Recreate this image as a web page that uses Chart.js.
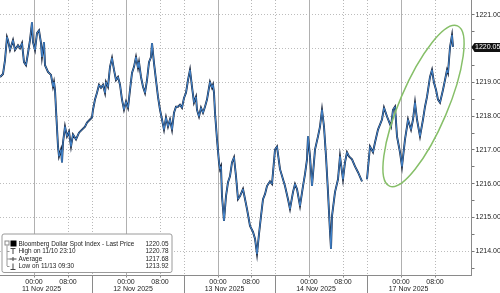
<!DOCTYPE html>
<html>
<head>
<meta charset="utf-8">
<script src="https://cdn.jsdelivr.net/npm/chart.js@4.4.1/dist/chart.umd.min.js"></script>
<style>
  html, body { margin: 0; padding: 0; background: #fff; }
  canvas { display: block; }
</style>
</head>
<body>
<canvas id="chart" width="500" height="293"></canvas>
<script>
// x runs along Bloomberg's compressed session axis, one unit ~ one 14-minute bar
const bars = [
  0, 3, 5, 7, 8, 10, 13, 15, 18, 20, 22, 24, 26, 28, 30, 32, 33, 35, 37, 39,
  41, 42, 44, 45, 48, 51, 53, 54, 55, 56, 58, 59, 61, 62, 63, 65, 67, 69, 71, 73,
  76, 79, 82, 85, 87, 90,
  92, 93, 95, 97, 99, 101, 103, 105, 106, 108, 110, 112, 114, 116, 118, 120, 122, 124, 126, 128,
  130, 132, 134, 136, 138, 139, 141, 143, 145, 147, 149, 151, 152, 154, 156, 158, 160, 162, 164, 166,
  168, 170, 172, 174, 176, 178, 180, 182,
  184, 186, 188, 190, 192, 194, 196, 197, 199, 201, 203, 205, 207, 209, 210, 212, 213, 214, 215, 217,
  219, 220, 221, 222, 224, 226, 228, 230, 232, 234, 236, 238, 240, 243, 247, 250, 253, 255, 257, 259,
  261, 263, 265, 267, 270, 272,
  275, 277, 280, 283, 285, 288, 290, 293, 295, 297, 300, 303, 305, 307, 308, 310, 312, 315, 318, 320,
  322, 324, 326, 328, 330, 331, 332, 335, 338, 340, 343, 345, 347, 349, 352, 355, 358, 362,
  364,
  367, 370, 373, 375, 378, 382, 384, 387, 391, 393, 395, 397, 400, 402, 405, 407, 408, 411, 413, 415,
  417, 420, 423, 425, 427, 430, 432, 434, 436, 438, 440, 443, 445, 447, 448, 450, 452, 453
];
const prices = [
  1219.16, 1219.25, 1219.66, 1220.34, 1220.25, 1219.96, 1220.25, 1219.96, 1220.10, 1220.01,
  1220.16, 1219.60, 1219.51, 1219.87, 1220.25, 1220.78, 1220.19, 1219.96, 1220.46, 1220.54,
  1220.16, 1219.75, 1220.19, 1219.51, 1219.31, 1219.22, 1218.87, 1219.01, 1218.78, 1218.19,
  1217.10, 1216.81, 1217.01, 1216.63, 1217.22, 1217.69, 1217.40, 1217.54, 1217.10, 1217.46,
  1217.31, 1217.51, 1217.60, 1217.69, 1217.81, 1217.90,
  1217.96, 1218.19, 1218.49, 1218.69, 1218.93, 1218.84, 1218.93, 1218.69, 1219.01, 1218.87,
  1219.46, 1219.72, 1219.37, 1219.07, 1219.16, 1218.93, 1218.49, 1218.19, 1218.43, 1218.25,
  1218.78, 1219.28, 1219.46, 1219.75, 1219.43, 1219.60, 1219.16, 1218.87, 1218.69, 1219.07,
  1219.60, 1219.75, 1220.16, 1219.57, 1219.07, 1218.57, 1218.19, 1217.90, 1217.60, 1217.96,
  1217.69, 1217.90, 1217.60, 1218.10, 1218.28, 1218.28, 1218.34, 1218.25,
  1218.54, 1218.69, 1219.07, 1219.37, 1218.87, 1218.40, 1218.57, 1218.19, 1217.99, 1218.25,
  1218.10, 1218.28, 1218.49, 1218.84, 1219.01, 1218.84, 1218.93, 1218.69, 1218.10, 1217.31,
  1216.63, 1216.43, 1216.51, 1215.63, 1214.90, 1215.63, 1216.04, 1216.22, 1216.63, 1216.78,
  1216.22, 1215.54, 1215.63, 1215.84, 1215.25, 1214.75, 1214.57, 1214.37, 1213.92, 1214.51,
  1215.04, 1215.54, 1215.69, 1215.93, 1216.07, 1215.99,
  1217.01, 1217.10, 1216.43, 1216.13, 1215.93, 1215.54, 1215.25, 1215.75, 1215.99, 1215.84,
  1215.34, 1215.93, 1216.28, 1216.72, 1217.40, 1216.81, 1215.93, 1217.01, 1217.40, 1217.69,
  1218.19, 1217.69, 1216.81, 1215.75, 1214.57, 1214.07, 1215.04, 1215.75, 1216.13, 1216.81,
  1216.13, 1216.63, 1216.93, 1216.81, 1216.72, 1216.51, 1216.34, 1216.07,
  null,
  1216.13, 1217.10, 1216.93, 1217.22, 1217.60, 1217.90, 1218.25, 1217.99, 1217.69, 1218.19,
  1218.28, 1217.40, 1216.93, 1216.51, 1217.31, 1217.69, 1217.90, 1217.60, 1217.90, 1218.40,
  1217.90, 1217.40, 1217.90, 1218.28, 1218.57, 1219.16, 1219.37, 1218.99, 1218.78, 1218.49,
  1218.40, 1218.78, 1219.07, 1219.37, 1219.28, 1220.04, 1220.40, 1220.05
];

const sessionStarts = [0, 92, 183.5, 275, 366.5];
const midnightTicks = [34, 126, 218, 309, 401];
const eightTicks = [68, 160, 251, 343, 435];
const dateTicks = [41.5, 133, 224.5, 316, 408.5];
const dateLabels = ['11 Nov 2025', '12 Nov 2025', '13 Nov 2025', '14 Nov 2025', '17 Nov 2025'];
const priceTicks = [1213.5, 1214, 1214.5, 1215, 1215.5, 1216, 1216.5, 1217, 1217.5,
  1218, 1218.5, 1219, 1219.5, 1220, 1220.5, 1221];

const legendLabels = ['Bloomberg Dollar Spot Index - Last Price', 'High on 11/10 23:10', 'Average', 'Low on 11/13 09:30'];
const legendValues = ['1220.05', '1220.78', '1217.68', '1213.92'];
const lastPrice = 1220.05;

const FONT = '"Liberation Sans", Arial, sans-serif';
Chart.defaults.font.family = FONT;
Chart.defaults.color = '#222';

const points = bars.map((b, i) => ({ x: b, y: prices[i] }));

const overlay = {
  id: 'overlay',
  beforeDatasetsDraw(chart) {
    const { ctx, chartArea: a, scales: { x } } = chart;
    ctx.save();
    ctx.lineWidth = 1;
    ctx.strokeStyle = '#b8b8b8';
    ctx.setLineDash([1, 2]);
    eightTicks.concat(sessionStarts.slice(1)).forEach(v => {
      const px = Math.round(x.getPixelForValue(v)) + 0.5;
      ctx.beginPath(); ctx.moveTo(px, a.top); ctx.lineTo(px, a.bottom); ctx.stroke();
    });
    ctx.setLineDash([]);
    ctx.strokeStyle = '#b0b0b0';
    midnightTicks.forEach(v => {
      const px = Math.round(x.getPixelForValue(v)) + 0.5;
      ctx.beginPath(); ctx.moveTo(px, a.top); ctx.lineTo(px, a.bottom); ctx.stroke();
    });
    ctx.restore();
  },
  afterDraw(chart, args, opts) {
    const { ctx, chartArea: a, scales: { x, y } } = chart;
    ctx.save();

    // session separators through the label rows
    ctx.strokeStyle = '#8a8a8a';
    ctx.lineWidth = 1;
    sessionStarts.slice(1).forEach(v => {
      const px = Math.round(x.getPixelForValue(v)) + 0.5;
      ctx.beginPath(); ctx.moveTo(px, a.bottom); ctx.lineTo(px, chart.height); ctx.stroke();
    });

    // date row under the time labels
    ctx.fillStyle = '#222';
    ctx.font = '7px ' + FONT;
    ctx.textAlign = 'center';
    ctx.textBaseline = 'middle';
    dateTicks.forEach((v, i) => ctx.fillText(dateLabels[i], x.getPixelForValue(v), a.bottom + 14));

    // highlight ellipse
    const e = opts.ellipse;
    ctx.strokeStyle = e.color;
    ctx.lineWidth = e.width;
    ctx.beginPath();
    ctx.ellipse(x.getPixelForValue(e.bar), y.getPixelForValue(e.price), e.rx, e.ry, e.angle * Math.PI / 180, 0, Math.PI * 2);
    ctx.stroke();

    // last price tag
    const py = Math.round(y.getPixelForValue(lastPrice));
    ctx.fillStyle = '#111';
    ctx.beginPath();
    ctx.moveTo(a.right, py);
    ctx.lineTo(a.right + 3, py - 4);
    ctx.lineTo(chart.width, py - 4);
    ctx.lineTo(chart.width, py + 5);
    ctx.lineTo(a.right + 3, py + 5);
    ctx.closePath();
    ctx.fill();
    ctx.fillStyle = '#fff';
    ctx.textAlign = 'left';
    ctx.fillText(lastPrice.toFixed(2), a.right + 3.5, py + 0.5);

    // legend box
    const lb = opts.legend;
    ctx.fillStyle = '#fff';
    ctx.strokeStyle = '#9a9a9a';
    ctx.lineWidth = 1;
    ctx.beginPath();
    ctx.roundRect(lb.left + 0.5, lb.top + 0.5, lb.width, lb.height, 2);
    ctx.fill();
    ctx.stroke();

    const rowY = i => lb.top + 10 + i * 7.5;
    // collapse box and series swatch
    ctx.strokeStyle = '#888';
    ctx.strokeRect(lb.left + 3.5, rowY(0) - 2.5, 4, 4);
    ctx.fillStyle = '#000';
    ctx.fillRect(lb.left + 9, rowY(0) - 3, 6, 6);
    // tree connectors
    ctx.strokeStyle = '#999';
    ctx.beginPath();
    ctx.moveTo(lb.left + 5.5, rowY(0) + 2); ctx.lineTo(lb.left + 5.5, rowY(3));
    for (let i = 1; i < 4; i++) { ctx.moveTo(lb.left + 5.5, rowY(i) + 0.5); ctx.lineTo(lb.left + 8, rowY(i) + 0.5); }
    ctx.stroke();
    // high / average / low markers
    ctx.strokeStyle = '#444';
    ctx.beginPath();
    ctx.moveTo(lb.left + 9, rowY(1) - 2.5); ctx.lineTo(lb.left + 14, rowY(1) - 2.5);
    ctx.moveTo(lb.left + 11.5, rowY(1) - 2.5); ctx.lineTo(lb.left + 11.5, rowY(1) + 3);
    ctx.moveTo(lb.left + 8, rowY(2) + 0.5); ctx.lineTo(lb.left + 15, rowY(2) + 0.5);
    ctx.moveTo(lb.left + 11.5, rowY(2) - 1.5); ctx.lineTo(lb.left + 11.5, rowY(2) + 2.5);
    ctx.moveTo(lb.left + 11.5, rowY(3) - 2.5); ctx.lineTo(lb.left + 11.5, rowY(3) + 3);
    ctx.moveTo(lb.left + 9, rowY(3) + 3.5); ctx.lineTo(lb.left + 14, rowY(3) + 3.5);
    ctx.stroke();

    ctx.fillStyle = '#222';
    ctx.font = '6.4px ' + FONT;
    legendLabels.forEach((t, i) => {
      ctx.textAlign = 'left';
      ctx.fillText(t, lb.left + 17, rowY(i) + 0.5);
      ctx.textAlign = 'right';
      ctx.fillText(legendValues[i], lb.left + lb.width - 3, rowY(i) + 0.5);
    });
    ctx.restore();
  }
};

new Chart(document.getElementById('chart'), {
  type: 'line',
  data: {
    datasets: [
      {
        label: 'Bloomberg Dollar Spot Index',
        data: points,
        borderColor: '#4589d2',
        borderWidth: 1,
        pointRadius: 0,
        tension: 0,
        spanGaps: false,
        order: 0
      },
      {
        label: 'range',
        data: points,
        borderColor: '#14213a',
        borderWidth: 1.9,
        pointRadius: 0,
        tension: 0,
        spanGaps: false,
        order: 1
      }
    ]
  },
  options: {
    responsive: false,
    animation: false,
    layout: { padding: 0 },
    plugins: {
      legend: { display: false },
      tooltip: { enabled: false },
      overlay: {
        ellipse: { bar: 423.5, price: 1218.3, rx: 87, ry: 24, angle: -67, color: '#86bf68', width: 1.5 },
        legend: { left: 1.5, top: 233.5, width: 170, height: 38.5 }
      }
    },
    scales: {
      x: {
        type: 'linear',
        position: 'bottom',
        min: 0,
        max: 471.5,
        afterBuildTicks: s => { s.ticks = midnightTicks.concat(eightTicks).sort((p, q) => p - q).map(v => ({ value: v })); },
        afterFit: s => { s.height = 17.5; s.paddingLeft = 0; s.paddingRight = 0; },
        ticks: {
          autoSkip: false,
          maxRotation: 0,
          padding: 0,
          font: { size: 7 },
          callback: v => midnightTicks.includes(v) ? '00:00' : '08:00'
        },
        grid: { drawOnChartArea: false, drawTicks: true, tickLength: 2, tickColor: '#888' },
        border: { display: true, color: '#8a8a8a' }
      },
      y: {
        position: 'right',
        min: 1213.28,
        max: 1221.44,
        afterBuildTicks: s => { s.ticks = priceTicks.map(v => ({ value: v })); },
        afterFit: s => { s.width = 28.5; s.paddingTop = 0; s.paddingBottom = 0; },
        ticks: {
          padding: 1,
          font: { size: 7 },
          color: '#222',
          callback: v => Number.isInteger(v) ? v.toFixed(2) : ''
        },
        grid: {
          color: c => Number.isInteger(c.tick && c.tick.value) ? '#bdbdbd' : 'rgba(0,0,0,0)',
          tickColor: '#777',
          tickLength: 3,
          lineWidth: 1
        },
        border: { display: true, color: '#8a8a8a', dash: [1, 2] }
      }
    }
  },
  plugins: [overlay]
});
</script>
</body>
</html>
